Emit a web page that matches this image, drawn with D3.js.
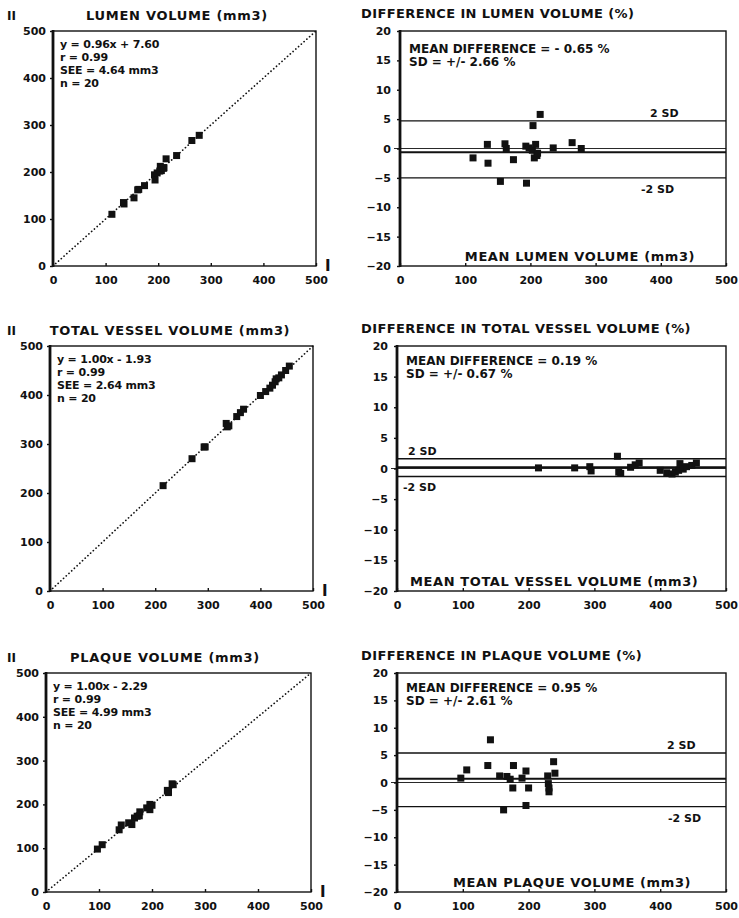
<!DOCTYPE html>
<html>
<head>
<meta charset="utf-8">
<script src="https://cdn.jsdelivr.net/npm/d3@7/dist/d3.min.js"></script>
<style>
  body { margin: 0; background: #fff; }
  text { font-family: "DejaVu Sans", "Liberation Sans", Arial, sans-serif; font-weight: bold; fill: #111; }
</style>
</head>
<body>
<div id="chart"></div>
<script>
// ---- data ----
const volumeTicks = [0, 100, 200, 300, 400, 500];
const diffTicks = [20, 15, 10, 5, 0, -5, -10, -15, -20];

// lumen: [method I, method II] in mm3
const lumenPairs = [
  [112, 110], [134, 135], [135, 132], [154, 145], [161, 162], [163, 163], [174, 171],
  [193, 194], [194, 183], [198, 198], [203, 202], [204, 212], [206, 203], [208, 209],
  [210, 208], [211, 209], [215, 228], [235, 235], [264, 267], [278, 278]
];
// lumen: [mean volume, difference %]
const lumenDiff = [
  [112, -1.6], [134, 0.7], [135, -2.5], [154, -5.6], [161, 0.8], [163, 0.0], [174, -1.9],
  [193, 0.4], [194, -5.9], [198, 0.1], [203, -0.3], [204, 3.9], [206, -1.6], [208, 0.7],
  [210, -1.2], [211, -0.8], [215, 5.8], [235, 0.1], [264, 1.0], [278, 0.0]
];
const lumenLines = [4.7, -0.65, -5.0];   // +2SD, mean, -2SD

const vesselPairs = [
  [215, 215], [270, 270], [293, 294], [295, 294], [335, 342], [337, 335], [340, 337],
  [355, 356], [362, 364], [368, 371], [400, 399], [410, 407], [418, 414], [423, 420],
  [428, 427], [430, 433], [435, 435], [440, 441], [448, 450], [455, 459]
];
const vesselDiff = [
  [215, 0.1], [270, 0.1], [293, 0.3], [295, -0.4], [335, 2.0], [337, -0.6], [340, -0.8],
  [355, 0.2], [362, 0.6], [368, 0.9], [400, -0.3], [410, -0.7], [418, -0.9], [423, -0.6],
  [428, -0.3], [430, 0.8], [435, -0.1], [440, 0.3], [448, 0.5], [455, 0.9]
];
const vesselLines = [1.6, 0.19, -1.3];

const plaquePairs = [
  [97, 98], [106, 108], [138, 142], [142, 153], [156, 158], [162, 154], [167, 169],
  [172, 173], [176, 174], [177, 183], [190, 192], [196, 200], [196, 188], [200, 198],
  [229, 232], [230, 230], [231, 227], [231, 229], [238, 247], [240, 245]
];
const plaqueDiff = [
  [97, 0.8], [106, 2.3], [138, 3.1], [142, 7.8], [156, 1.2], [162, -5.0], [167, 1.1],
  [172, 0.6], [176, -1.0], [177, 3.1], [190, 0.8], [196, 2.1], [196, -4.2], [200, -1.0],
  [229, 1.2], [230, -0.2], [231, -1.7], [231, -1.0], [238, 3.8], [240, 1.7]
];
const plaqueLines = [5.4, 0.7, -4.4];

const scatterTitles = ['LUMEN VOLUME (mm3)', 'TOTAL VESSEL VOLUME (mm3)', 'PLAQUE VOLUME (mm3)'];
const scatterStats = [
  ['y = 0.96x + 7.60', 'r = 0.99', 'SEE = 4.64 mm3', 'n = 20'],
  ['y = 1.00x - 1.93', 'r = 0.99', 'SEE = 2.64 mm3', 'n = 20'],
  ['y = 1.00x - 2.29', 'r = 0.99', 'SEE = 4.99 mm3', 'n = 20']
];
const diffTitles = ['DIFFERENCE IN LUMEN VOLUME (%)', 'DIFFERENCE IN TOTAL VESSEL VOLUME  (%)', 'DIFFERENCE IN PLAQUE VOLUME (%)'];
const diffStats = [
  ['MEAN DIFFERENCE = - 0.65 %', 'SD = +/-  2.66 %'],
  ['MEAN  DIFFERENCE = 0.19 %', 'SD = +/-  0.67 %'],
  ['MEAN  DIFFERENCE = 0.95 %', 'SD = +/-  2.61 %']
];
const diffXTitles = ['MEAN LUMEN VOLUME (mm3)', 'MEAN TOTAL VESSEL VOLUME  (mm3)', 'MEAN PLAQUE VOLUME (mm3)'];

// ---- layout: the scanned rows are not quite aligned, so each row has its own frame ----
const rows = [
  { top: 31, bottom: 266, lx0: 53, lx1: 316, rx0: 400, rx1: 726, titleX: 177, sdX: [650, 641], axisX: 580 },
  { top: 346, bottom: 591, lx0: 50, lx1: 313, rx0: 397, rx1: 726, titleX: 170, sdX: [408, 403], axisX: 410 },
  { top: 673, bottom: 892, lx0: 46, lx1: 311, rx0: 397, rx1: 726, titleX: 165, sdX: [667, 668], axisX: 572 }
];

const svg = d3.select('#chart').append('svg')
  .attr('width', 739)
  .attr('height', 918);

function frame(g, x0, x1, top, bottom) {
  g.append('rect')
    .attr('x', x0).attr('y', top)
    .attr('width', x1 - x0).attr('height', bottom - top)
    .attr('fill', 'none').attr('stroke', '#111').attr('stroke-width', 1.4);
  // heavy left axis line like the print
  g.append('line')
    .attr('x1', x0).attr('x2', x0).attr('y1', top - 1).attr('y2', bottom + 1)
    .attr('stroke', '#111').attr('stroke-width', 2.8);
}

function styleAxis(sel) {
  sel.select('.domain').remove();
  sel.selectAll('line').attr('stroke', '#111').attr('stroke-width', 1.4);
  sel.selectAll('text')
    .style('font-size', '11px')
    .style('font-family', '"DejaVu Sans", Arial, sans-serif')
    .style('font-weight', 'bold')
    .attr('fill', '#111');
}

function drawScatter(i, pairs) {
  const row = rows[i];
  const { top, bottom } = row;
  const g = svg.append('g');
  const x = d3.scaleLinear().domain([0, 500]).range([row.lx0, row.lx1]);
  const y = d3.scaleLinear().domain([0, 500]).range([bottom, top]);

  frame(g, row.lx0, row.lx1, top, bottom);

  g.append('g').attr('transform', `translate(${row.lx0},0)`)
    .call(d3.axisLeft(y).tickValues(volumeTicks).tickSize(3).tickPadding(4))
    .call(styleAxis);
  g.append('g').attr('transform', `translate(0,${bottom})`)
    .call(d3.axisBottom(x).tickValues(volumeTicks).tickSize(-3).tickPadding(10))
    .call(styleAxis);

  // line of identity, dotted
  g.append('line')
    .attr('x1', x(0)).attr('y1', y(0)).attr('x2', x(500)).attr('y2', y(500))
    .attr('stroke', '#111').attr('stroke-width', 1.7)
    .attr('stroke-dasharray', '0.1,3.6').attr('stroke-linecap', 'round');

  g.selectAll('rect.pt').data(pairs).enter().append('rect')
    .attr('class', 'pt')
    .attr('x', d => x(d[0]) - 3.5).attr('y', d => y(d[1]) - 3.5)
    .attr('width', 7).attr('height', 7)
    .attr('fill', '#111');

  g.append('text')
    .attr('x', row.titleX).attr('y', top - 11)
    .attr('text-anchor', 'middle').style('font-size', '13px')
    .style('letter-spacing', '0.7px')
    .text(scatterTitles[i]);

  g.selectAll('text.stat').data(scatterStats[i]).enter().append('text')
    .attr('class', 'stat')
    .attr('x', row.lx0 + 7).attr('y', (d, k) => top + 17 + k * 13)
    .style('font-size', '11px')
    .style('letter-spacing', '-0.2px')
    .text(d => d);

  // axis markers: II (y) and I (x)
  g.append('text').attr('x', 7).attr('y', top - 11).style('font-size', '12px').text('II');
  g.append('text').attr('x', row.lx1 + 9).attr('y', bottom + 5).style('font-size', '15px').text('I');
}

function drawDiff(i, pts, lines) {
  const row = rows[i];
  const { top, bottom } = row;
  const g = svg.append('g');
  const x = d3.scaleLinear().domain([0, 500]).range([row.rx0, row.rx1]);
  const y = d3.scaleLinear().domain([-20, 20]).range([bottom, top]);

  frame(g, row.rx0, row.rx1, top, bottom);

  g.append('g').attr('transform', `translate(${row.rx0},0)`)
    .call(d3.axisLeft(y).tickValues(diffTicks).tickSize(3).tickPadding(6))
    .call(styleAxis);
  g.append('g').attr('transform', `translate(0,${bottom})`)
    .call(d3.axisBottom(x).tickValues(volumeTicks).tickSize(-3).tickPadding(10))
    .call(styleAxis);

  // zero reference (thin), mean (heavy), +/- 2 SD
  g.append('line')
    .attr('x1', row.rx0 - 6).attr('x2', row.rx1).attr('y1', y(0)).attr('y2', y(0))
    .attr('stroke', '#111').attr('stroke-width', 0.9);
  g.selectAll('line.sd').data(lines).enter().append('line')
    .attr('class', 'sd')
    .attr('x1', row.rx0).attr('x2', row.rx1)
    .attr('y1', d => y(d)).attr('y2', d => y(d))
    .attr('stroke', '#111')
    .attr('stroke-width', (d, k) => k === 1 ? 2 : 1.4);

  g.selectAll('rect.pt').data(pts).enter().append('rect')
    .attr('class', 'pt')
    .attr('x', d => x(d[0]) - 3.5).attr('y', d => y(d[1]) - 3.5)
    .attr('width', 7).attr('height', 7)
    .attr('fill', '#111');

  g.append('text')
    .attr('x', 361).attr('y', top - 13)
    .style('font-size', '13px').style('letter-spacing', '0.4px')
    .text(diffTitles[i]);

  g.selectAll('text.stat').data(diffStats[i]).enter().append('text')
    .attr('class', 'stat')
    .attr('x', row.rx0 + 9).attr('y', (d, k) => top + (i === 0 ? 22 : 19) + k * 13)
    .style('font-size', '12px')
    .text(d => d);

  g.append('text').attr('x', row.sdX[0]).attr('y', y(lines[0]) - 4)
    .style('font-size', '11px').text('2 SD');
  g.append('text').attr('x', row.sdX[1]).attr('y', y(lines[2]) + 15)
    .style('font-size', '11px').text('-2 SD');

  g.append('text')
    .attr('x', row.axisX).attr('y', bottom - 5)
    .attr('text-anchor', i === 1 ? 'start' : 'middle')
    .style('font-size', '13px').style('letter-spacing', '0.6px')
    .text(diffXTitles[i]);
}

drawScatter(0, lumenPairs);
drawDiff(0, lumenDiff, lumenLines);
drawScatter(1, vesselPairs);
drawDiff(1, vesselDiff, vesselLines);
drawScatter(2, plaquePairs);
drawDiff(2, plaqueDiff, plaqueLines);
</script>
</body>
</html>
